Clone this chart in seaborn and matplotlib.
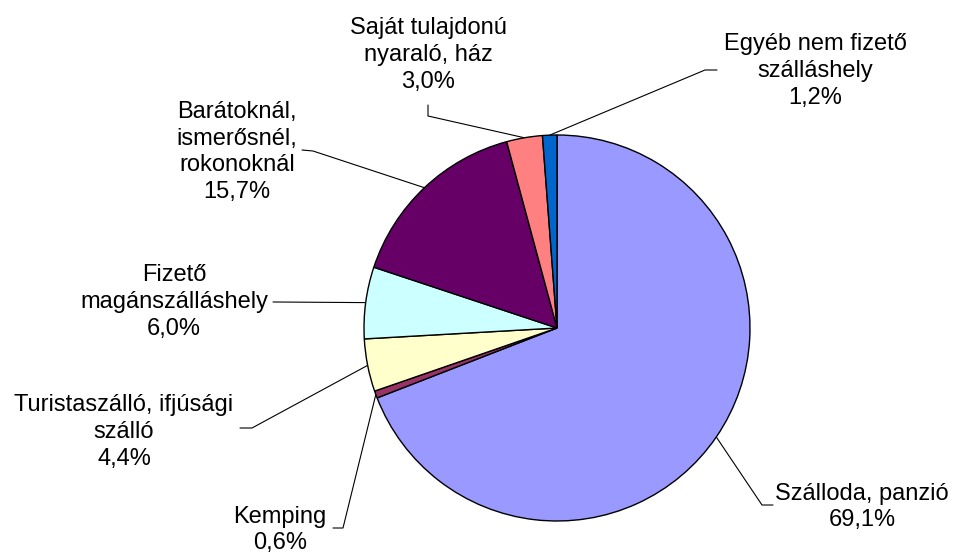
import numpy as np
import matplotlib
matplotlib.use("Agg")
import matplotlib.pyplot as plt
import seaborn as sns

# adatok (óramutató járásával egyezően, 12 órától)
categories = ["Szálloda, panzió", "Kemping", "Turistaszálló, ifjúsági\nszálló",
              "Fizető\nmagánszálláshely", "Barátoknál,\nismerősnél,\nrokonoknál",
              "Saját tulajdonú\nnyaraló, ház", "Egyéb nem fizető\nszálláshely"]
shares = [69.1, 0.6, 4.4, 6.0, 15.7, 3.0, 1.2]
pct_labels = ["69,1%", "0,6%", "4,4%", "6,0%", "15,7%", "3,0%", "1,2%"]
colors = ["#9999FF", "#993366", "#FFFFCC", "#CCFFFF", "#660066", "#FF8080", "#0066CC"]

sns.set_theme(style="white")
plt.rcParams['font.family'] = ['Liberation Sans', 'DejaVu Sans']

# pixel -> adat koordináta (középpont 557,328; sugár 193 px)
CX, CY, R = 557, 328, 193
def px(x, y):
    return (x - CX) / R, (CY - y) / R

# címkék elhelyezése: szöveg közepe, könyök, vonalvég (pixelben)
layout = [
    ((862, 507), (762, 505), (773, 505)),
    ((280, 530), (343, 528), (333, 528)),
    ((124, 432), (252, 428), (240, 428)),
    ((174, 302), (275, 302), (273, 302)),
    ((237, 152), (313, 151), (302, 150)),
    ((428, 55), (428, 116), (428, 105)),
    ((815, 71), (705, 70), (717, 70)),
]

fig = plt.figure(figsize=(9.57, 5.54), dpi=100)
ax = fig.add_axes([0, 0, 1, 1])
wedges, _ = ax.pie(shares, colors=colors, startangle=90, counterclock=False,
                   radius=1, wedgeprops=dict(edgecolor="black", linewidth=1))

for w, cat, pct, (txt, elbow, stub) in zip(wedges, categories, pct_labels, layout):
    mid = np.deg2rad((w.theta1 + w.theta2) / 2)
    ax0, ay0 = np.cos(mid), np.sin(mid)
    ex, ey = px(*elbow)
    sx, sy = px(*stub)
    ax.plot([ax0, ex, sx], [ay0, ey, sy], color="black", lw=0.8, zorder=0)
    tx, ty = px(*txt)
    ax.text(tx, ty, cat + "\n" + pct, ha="center", va="center",
            multialignment="center", fontsize=17, linespacing=1.27, color="black")

ax.set_xlim(-CX / R, (957 - CX) / R)
ax.set_ylim(-(554 - CY) / R, CY / R)
ax.set_aspect("equal")
ax.axis("off")

fig.savefig("out.png", dpi=100, facecolor="white")
